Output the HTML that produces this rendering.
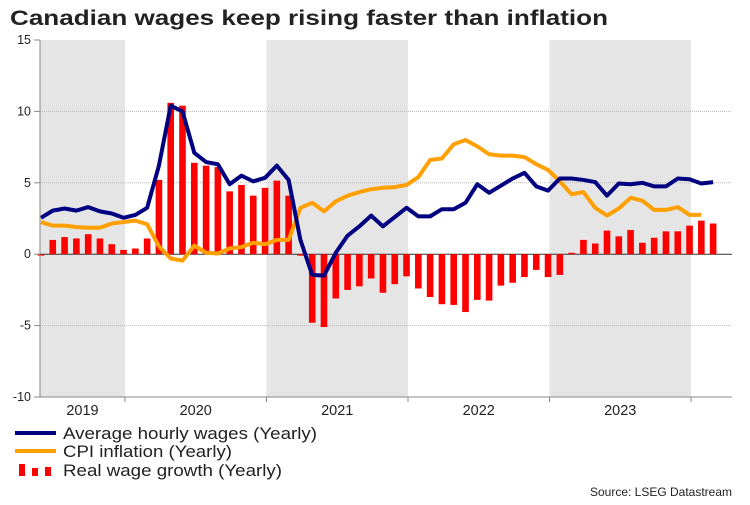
<!DOCTYPE html>
<html><head><meta charset="utf-8"><style>
body{margin:0;background:#fff;width:750px;height:500px;overflow:hidden;font-family:"Liberation Sans",Arial,sans-serif}
</style></head><body>
<svg id="c" width="750" height="500" xmlns="http://www.w3.org/2000/svg" font-family="Liberation Sans, Arial, sans-serif">
<text x="10" y="25" font-size="21" font-weight="bold" fill="#222" textLength="598" lengthAdjust="spacingAndGlyphs">Canadian wages keep rising faster than inflation</text>
<g id="bands"></g><g id="grid"></g><g id="bars"></g><g id="lines"></g><g id="axes"></g>
<g>
<line x1="15" y1="433" x2="56" y2="433" stroke="#000080" stroke-width="4"/>
<text x="63" y="439" font-size="17" fill="#222" textLength="254" lengthAdjust="spacingAndGlyphs">Average hourly wages (Yearly)</text>
<line x1="15" y1="451" x2="56" y2="451" stroke="#ffa000" stroke-width="4"/>
<text x="63" y="457" font-size="17" fill="#222" textLength="169" lengthAdjust="spacingAndGlyphs">CPI inflation (Yearly)</text>
<rect x="19" y="464" width="6" height="12" fill="red"/><rect x="32" y="468" width="6" height="8" fill="red"/><rect x="45" y="467" width="6" height="9" fill="red"/>
<text x="63" y="476" font-size="17" fill="#222" textLength="219" lengthAdjust="spacingAndGlyphs">Real wage growth (Yearly)</text>
</g>
<text x="732" y="496" font-size="12" fill="#222" text-anchor="end" textLength="142" lengthAdjust="spacingAndGlyphs">Source: LSEG Datastream</text>
</svg>
<script>
const years=["2019","2020","2021","2022","2023"];
const yTicks=[15,10,5,0,-5,-10];
const wages=[2.55,3.05,3.2,3.05,3.3,3.0,2.85,2.55,2.75,3.25,6.2,10.4,10.0,7.1,6.45,6.3,4.9,5.5,5.1,5.35,6.2,5.2,1.0,-1.45,-1.5,0.1,1.3,1.95,2.7,1.95,2.6,3.25,2.65,2.65,3.15,3.15,3.6,4.9,4.3,4.8,5.3,5.7,4.75,4.45,5.3,5.3,5.2,5.05,4.1,4.95,4.9,5.0,4.75,4.75,5.3,5.25,4.95,5.05];
const cpi=[2.25,2.0,2.0,1.9,1.85,1.85,2.15,2.25,2.35,2.1,0.55,-0.3,-0.45,0.6,0.1,0.05,0.4,0.5,0.8,0.7,1.0,1.0,3.25,3.6,3.0,3.7,4.1,4.35,4.55,4.65,4.7,4.85,5.4,6.6,6.7,7.7,8.0,7.55,7.0,6.9,6.9,6.8,6.3,5.9,5.1,4.2,4.35,3.25,2.7,3.2,3.95,3.75,3.1,3.1,3.3,2.75,2.75];
const realWage=[-0.1,1.0,1.2,1.1,1.4,1.1,0.7,0.3,0.4,1.1,5.2,10.6,10.4,6.4,6.2,6.1,4.4,4.85,4.1,4.65,5.15,4.1,-0.1,-4.8,-5.1,-3.1,-2.5,-2.25,-1.7,-2.7,-2.1,-1.55,-2.4,-3.0,-3.5,-3.55,-4.05,-3.2,-3.25,-2.2,-2.0,-1.6,-1.1,-1.6,-1.45,0.1,1.0,0.75,1.65,1.25,1.7,0.8,1.15,1.6,1.6,2.0,2.35,2.15];
const NS="http://www.w3.org/2000/svg";
const L=40,R=732,T=40,B=397,yMin=-10,yMax=15;
const monthW=141.5/12, x0=41;
const X=i=>x0+i*monthW;
const Y=v=>B-(v-yMin)/(yMax-yMin)*(B-T);
const yearStart=i=>125+(i-1)*141.5;
function mk(tag,attrs,parent){const e=document.createElementNS(NS,tag);for(const k in attrs)e.setAttribute(k,attrs[k]);document.getElementById(parent).appendChild(e);return e;}
years.forEach((y,i)=>{
  const a=i===0?L:yearStart(i), b=Math.min(R,yearStart(i+1));
  if(i%2===0){const r=mk('rect',{x:a,y:T,width:b-a,height:B-T,fill:'#e5e5e5'},'bands');
    
    }
  const t=mk('text',{x:(a+b)/2,y:415,'font-size':14.5,'text-anchor':'middle',fill:'#222'},'axes');t.textContent=y;
  
  
  if(i>0) mk('line',{x1:a,y1:B,x2:a,y2:402,stroke:'#888'},'axes');
});
mk('line',{x1:yearStart(5),y1:B,x2:yearStart(5),y2:402,stroke:'#888'},'axes');
yTicks.forEach(v=>{
  if(v!==0&&v!==yMin&&v!==yMax) mk('line',{x1:L,y1:Y(v),x2:R,y2:Y(v),stroke:'#bbb','stroke-dasharray':'1,1'},'grid');
  mk('line',{x1:34,y1:Y(v),x2:L,y2:Y(v),stroke:'#888'},'axes');
  const t=mk('text',{x:31,y:Y(v)+4,'font-size':12.5,'text-anchor':'end',fill:'#222'},'axes');t.textContent=v;
  
  
});
mk('line',{x1:L,y1:T,x2:L,y2:B,stroke:'#888'},'axes');
mk('line',{x1:37,y1:B,x2:R,y2:B,stroke:'#888'},'axes');
mk('line',{x1:L,y1:Y(0),x2:R,y2:Y(0),stroke:'#333'},'grid');
realWage.forEach((v,i)=>{
  const r=mk('rect',{x:X(i)-3.3,y:Math.min(Y(v),Y(0)),width:6.6,height:Math.abs(Y(v)-Y(0)),fill:'#ff0000'},'bars');
  
  
});
function line(arr,col,name){
  const p=mk('polyline',{points:arr.map((v,i)=>X(i)+','+Y(v)).join(' '),fill:'none',stroke:col,'stroke-width':4,'stroke-linejoin':'round'},'lines');
  
  
}
line(cpi,'#ffa000','cpi-line');
line(wages,'#000080','wages-line');
</script>
</body></html>
